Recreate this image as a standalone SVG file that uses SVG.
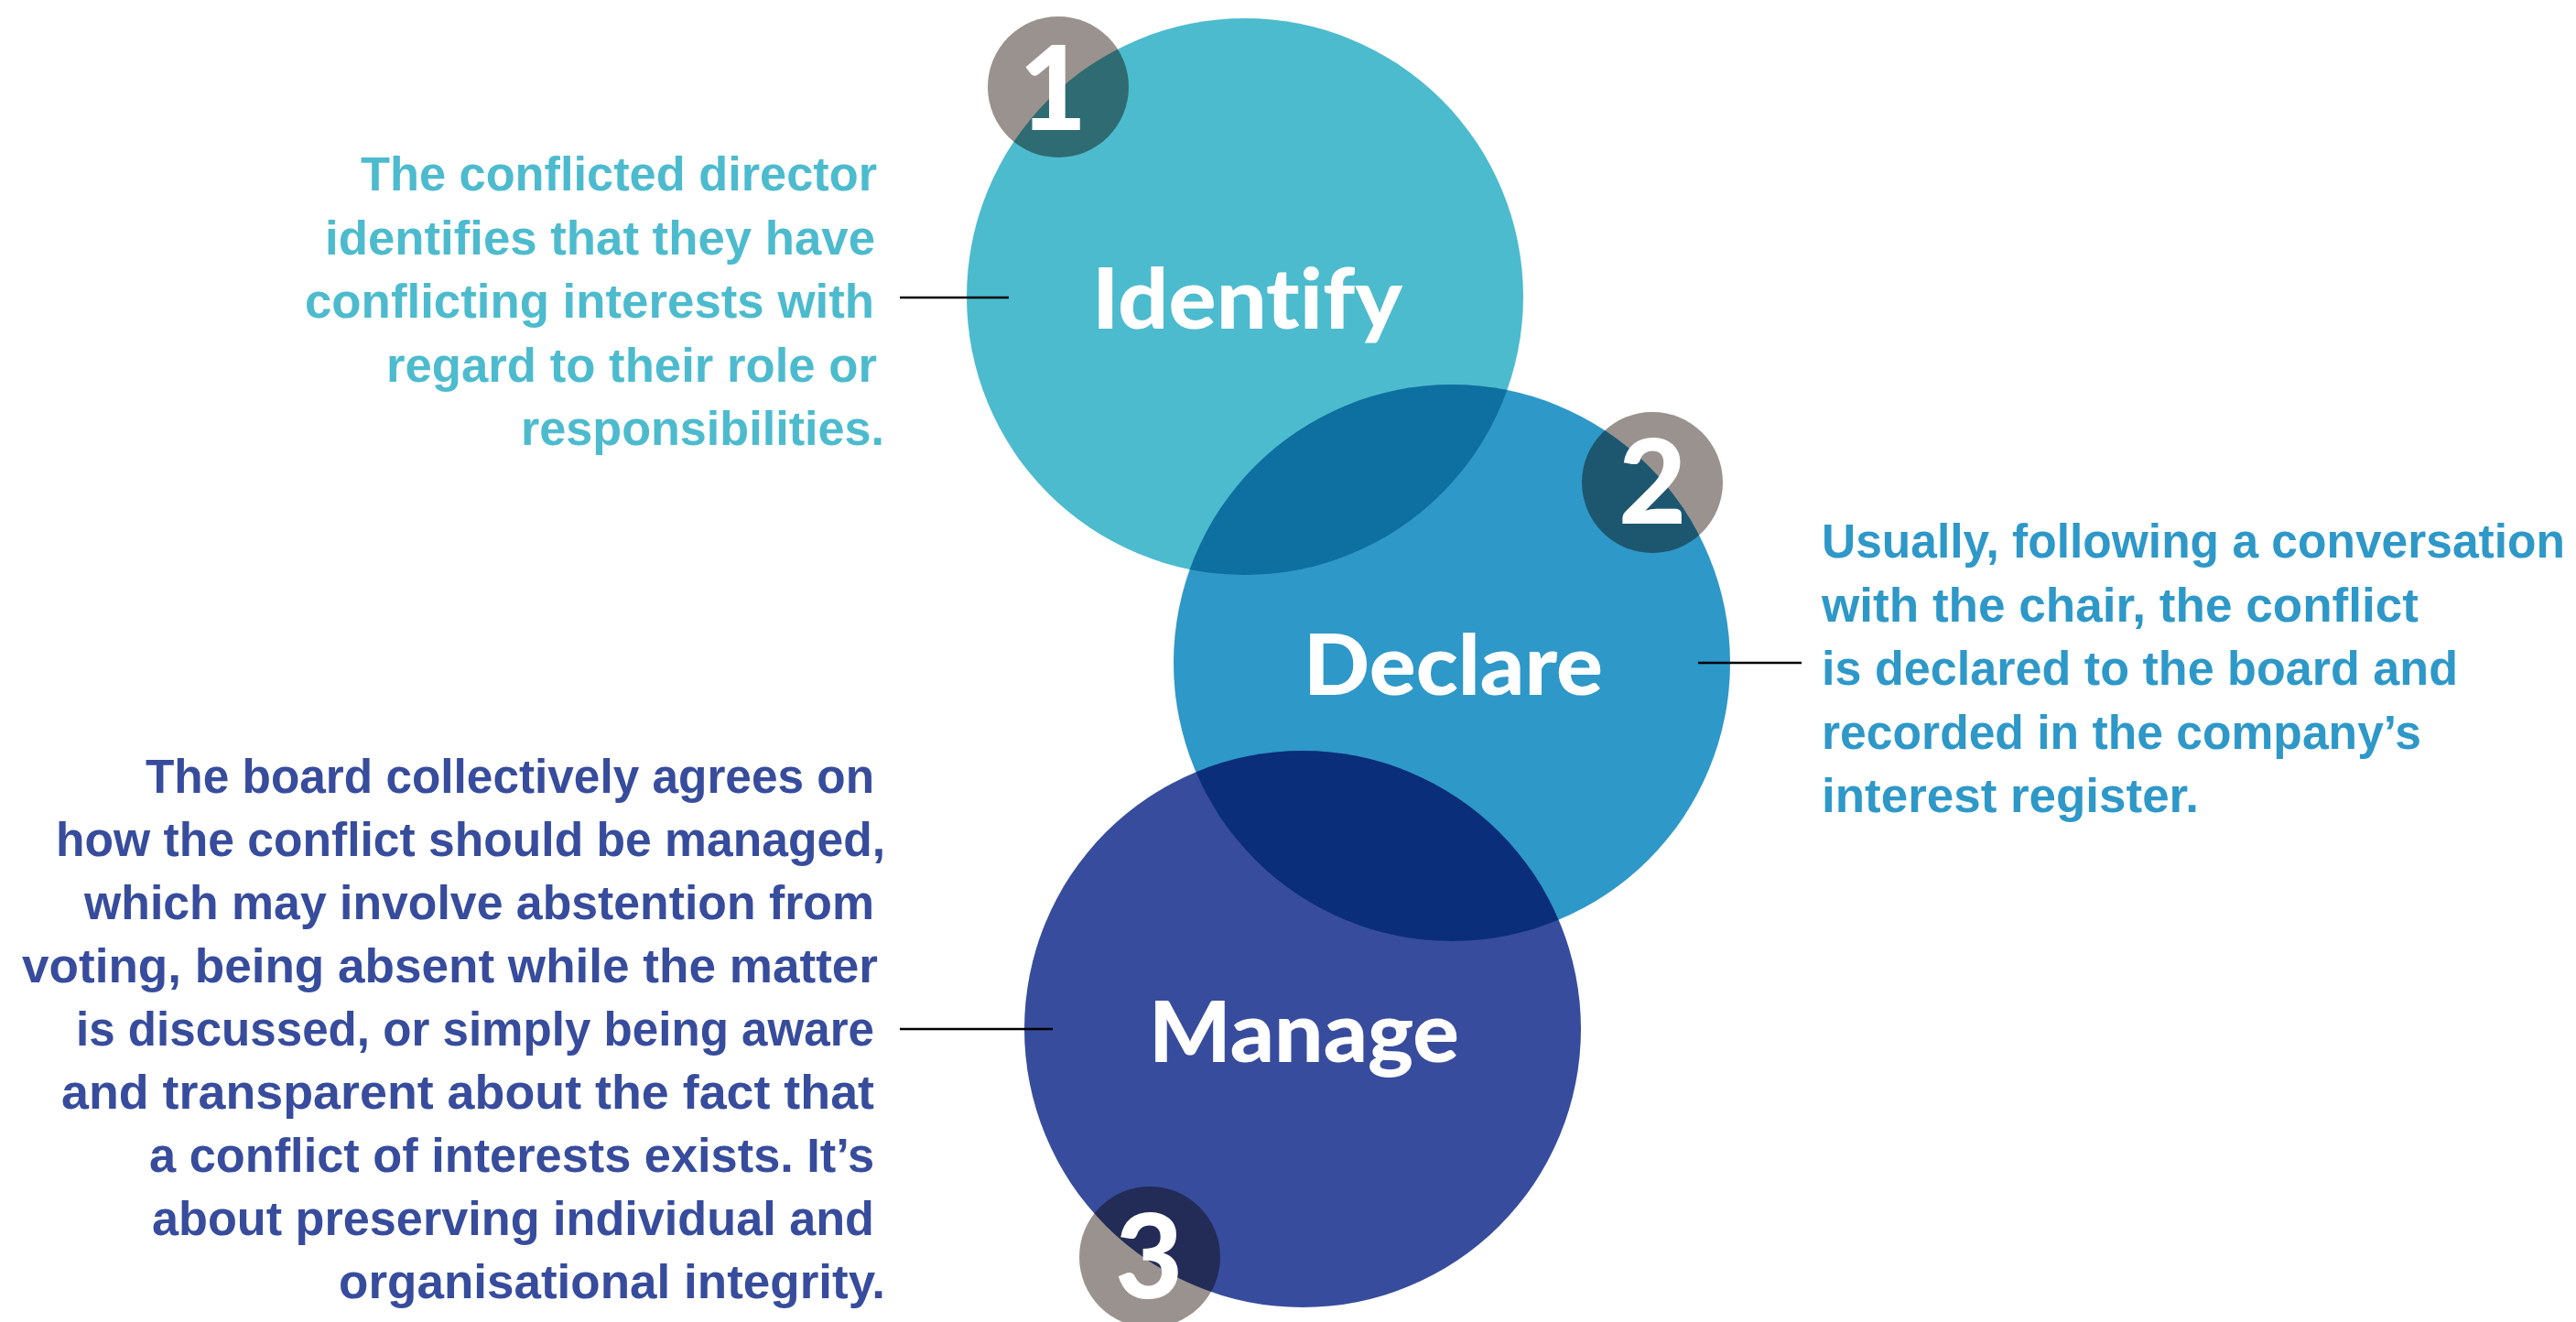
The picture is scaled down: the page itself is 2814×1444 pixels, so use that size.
<svg xmlns="http://www.w3.org/2000/svg" width="2814" height="1444" viewBox="0 0 2814 1444">
  <style>
    .blob { mix-blend-mode: multiply; }
    .badge { fill: #9A928E; mix-blend-mode: multiply; }
    .num { font-family: Lato, "Liberation Sans", sans-serif; font-weight: 900; font-size: 128px; fill: #FFFFFF; text-anchor: middle; }
    .label { font-family: Lato, "Liberation Sans", sans-serif; font-weight: 900; font-size: 92px; fill: #FFFFFF; font-variant-ligatures: none; }
    .desc { font-family: "Liberation Sans", Arial, sans-serif; font-weight: 700; font-size: 51px; }
    .c1 { fill: #4DBBCE; }
    .c2 { fill: #2E98C8; }
    .c3 { fill: #374C9C; }
    .conn { stroke: #000000; stroke-width: 2.5; fill: none; }
  </style>
  <rect x="0" y="0" width="2814" height="1444" fill="#FFFFFF"/>

  <g id="node-identify">
    <circle class="blob c1" cx="1360" cy="324" r="304"/>
    <circle class="badge" cx="1156" cy="95" r="77"/>
    <text class="num" x="1150" y="142">1</text>
    <text class="label" x="1193" y="359" textLength="339" lengthAdjust="spacingAndGlyphs">Identify</text>
    <g class="desc c1">
      <text x="394" y="208" textLength="564" lengthAdjust="spacingAndGlyphs">The conflicted director</text>
      <text x="355" y="277.5" textLength="601" lengthAdjust="spacingAndGlyphs">identifies that they have</text>
      <text x="333" y="347" textLength="622" lengthAdjust="spacingAndGlyphs">conflicting interests with</text>
      <text x="422" y="416.5" textLength="536" lengthAdjust="spacingAndGlyphs">regard to their role or</text>
      <text x="569" y="486" textLength="397" lengthAdjust="spacingAndGlyphs">responsibilities.</text>
    </g>
  </g>

  <g id="node-declare">
    <circle class="blob c2" cx="1586" cy="724" r="304"/>
    <circle class="badge" cx="1805" cy="527" r="77"/>
    <text class="num" x="1805" y="572">2</text>
    <text class="label" x="1424" y="759" textLength="327" lengthAdjust="spacingAndGlyphs">Declare</text>
    <g class="desc c2">
      <text x="1990" y="609" textLength="812" lengthAdjust="spacingAndGlyphs">Usually, following a conversation</text>
      <text x="1990" y="678.5" textLength="652" lengthAdjust="spacingAndGlyphs">with the chair, the conflict</text>
      <text x="1990" y="748" textLength="695" lengthAdjust="spacingAndGlyphs">is declared to the board and</text>
      <text x="1990" y="817.5" textLength="655" lengthAdjust="spacingAndGlyphs">recorded in the company’s</text>
      <text x="1990" y="887" textLength="412" lengthAdjust="spacingAndGlyphs">interest register.</text>
    </g>
  </g>

  <g id="node-manage">
    <circle class="blob c3" cx="1423" cy="1124" r="304"/>
    <circle class="badge" cx="1256" cy="1373" r="77"/>
    <text class="num" x="1255" y="1418">3</text>
    <text class="label" x="1255" y="1160" textLength="339" lengthAdjust="spacingAndGlyphs">Manage</text>
    <g class="desc c3">
      <text x="159" y="866" textLength="796" lengthAdjust="spacingAndGlyphs">The board collectively agrees on</text>
      <text x="61" y="935" textLength="906" lengthAdjust="spacingAndGlyphs">how the conflict should be managed,</text>
      <text x="92" y="1004" textLength="863" lengthAdjust="spacingAndGlyphs">which may involve abstention from</text>
      <text x="24" y="1073" textLength="935" lengthAdjust="spacingAndGlyphs">voting, being absent while the matter</text>
      <text x="83" y="1142" textLength="872" lengthAdjust="spacingAndGlyphs">is discussed, or simply being aware</text>
      <text x="67" y="1211" textLength="888" lengthAdjust="spacingAndGlyphs">and transparent about the fact that</text>
      <text x="163" y="1280" textLength="792" lengthAdjust="spacingAndGlyphs">a conflict of interests exists. It’s</text>
      <text x="166" y="1349" textLength="789" lengthAdjust="spacingAndGlyphs">about preserving individual and</text>
      <text x="370" y="1418" textLength="597" lengthAdjust="spacingAndGlyphs">organisational integrity.</text>
    </g>
  </g>

  <g id="connectors">
    <line class="conn" x1="983" y1="325" x2="1102" y2="325"/>
    <line class="conn" x1="1855" y1="724" x2="1968" y2="724"/>
    <line class="conn" x1="983" y1="1124" x2="1150" y2="1124"/>
  </g>
</svg>
